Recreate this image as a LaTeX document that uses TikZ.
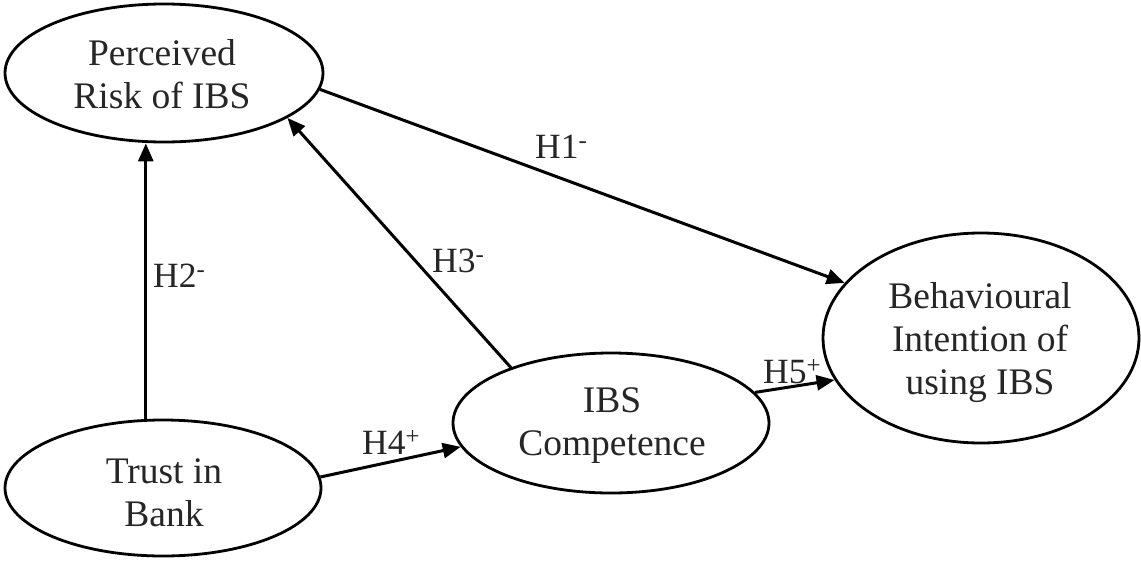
\documentclass[tikz,border=0pt]{standalone}
\usepackage{fontspec}
\setmainfont{Liberation Serif}
\usetikzlibrary{shapes.geometric,arrows.meta}
\begin{document}
\begin{tikzpicture}[x=1pt,y=-1pt,
  ell/.style={draw, line width=2.8pt, ellipse, inner sep=0pt},
  txt/.style={anchor=base, inner sep=0pt, text=black!85, font=\fontsize{37.5}{43}\selectfont},
  hyp/.style={anchor=base west, inner sep=0pt, text=black!85, font=\fontsize{35.5}{42}\selectfont},
  arr/.style={line width=3pt, -{Triangle[length=18pt,width=15pt]}}]
\useasboundingbox (0,0) rectangle (1141,563);
% ellipses
\node[ell, minimum width=318pt, minimum height=138pt] (pr) at (164,73) {};
\node[ell, minimum width=316pt, minimum height=136pt] (tr) at (163,488) {};
\node[ell, minimum width=316pt, minimum height=140pt] (co) at (611,423) {};
\node[ell, minimum width=316pt, minimum height=210pt] (bi) at (981,338) {};
% texts
\node[txt] (prt) at (162,65) {\begin{tabular}[t]{@{}c@{}}Perceived\\Risk of IBS\end{tabular}};
\node[txt] (trt) at (164,483) {\begin{tabular}[t]{@{}c@{}}Trust in\\Bank\end{tabular}};
\node[txt] (cot) at (612,412) {\begin{tabular}[t]{@{}c@{}}IBS\\Competence\end{tabular}};
\node[txt] (bit) at (980,308) {\begin{tabular}[t]{@{}c@{}}Behavioural\\Intention of\\using IBS\end{tabular}};
% connectors
\draw[arr] (tr.104) -- (tr.104 |- pr.south);
\draw[arr] (tr.4) -- (co.189);
\draw[arr] (co.151) -- (pr.340);
\draw[arr] (pr.354) -- (bi.158);
\draw[arr] (co.12) -- (bi.196.5);
% labels
\node[hyp] (h1) at (535,158) {H1\textsuperscript{-}};
\node[hyp] (h2) at (153,287) {H2\textsuperscript{-}};
\node[hyp] (h3) at (432,272) {H3\textsuperscript{-}};
\node[hyp] (h4) at (362,454) {H4\textsuperscript{+}};
\node[hyp] (h5) at (763,383) {H5\textsuperscript{+}};
\end{tikzpicture}
\end{document}
